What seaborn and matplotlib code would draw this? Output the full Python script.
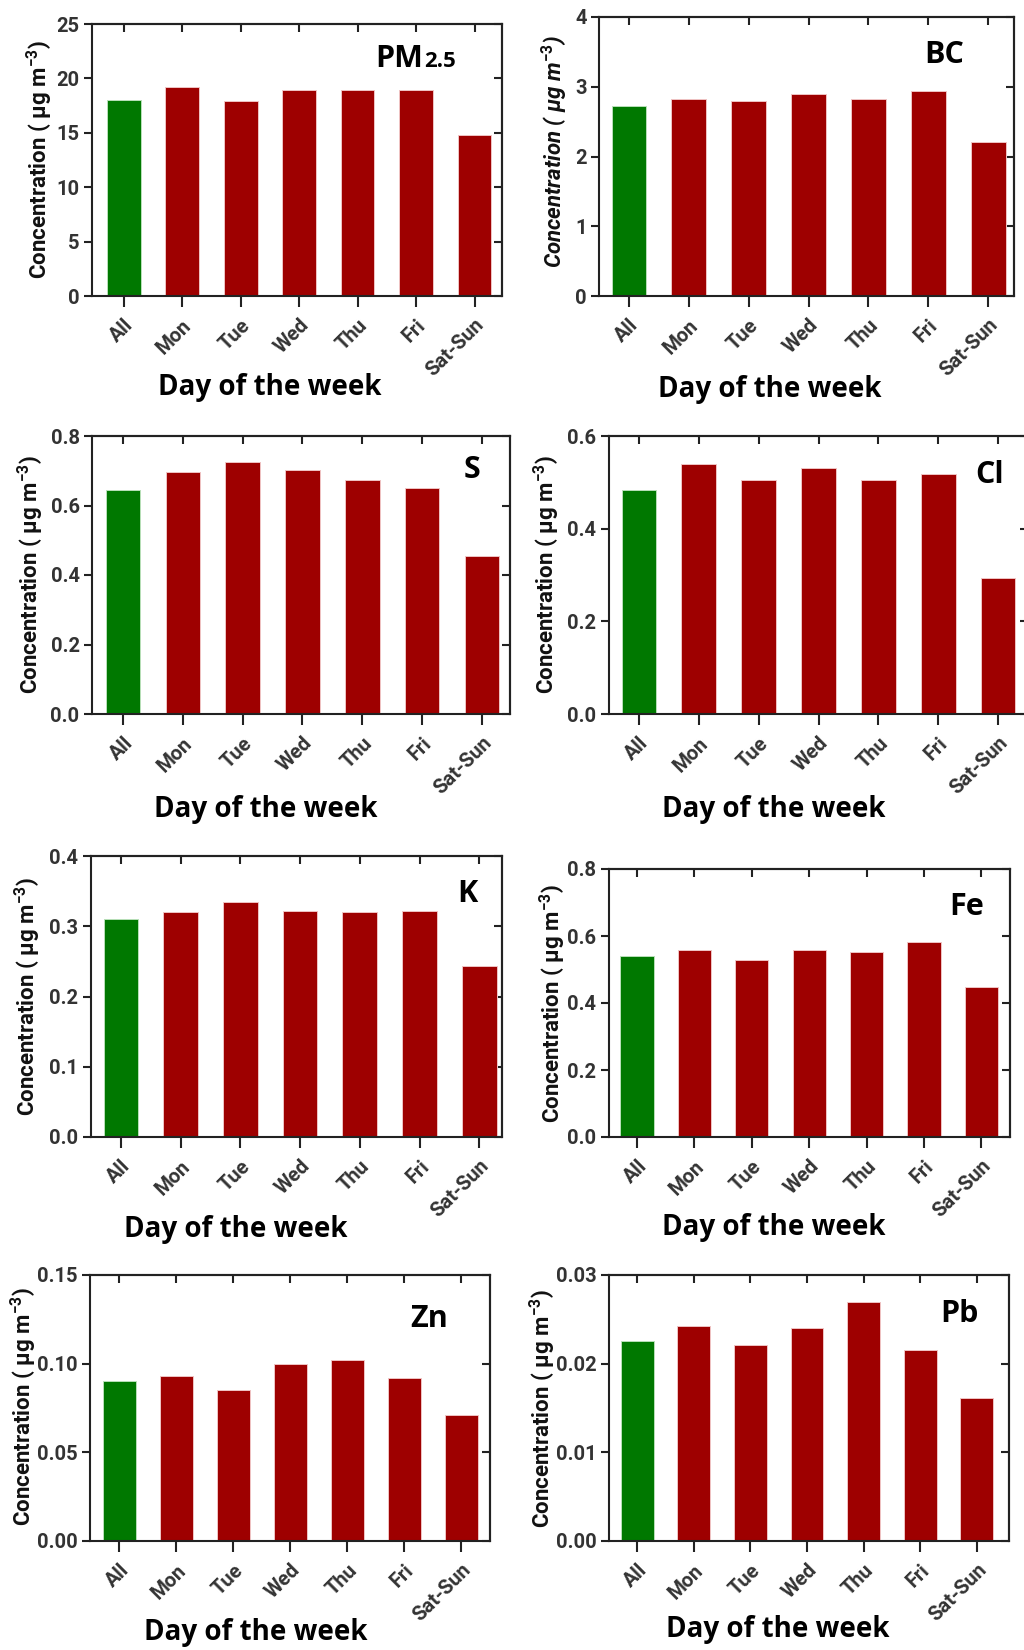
import matplotlib
matplotlib.use("Agg")
import matplotlib.pyplot as plt
import seaborn as sns
import pandas as pd

# ---------------- data ----------------
days = ["All", "Mon", "Tue", "Wed", "Thu", "Fri", "Sat-Sun"]

pm25 = [18.0, 19.2, 17.9, 18.9, 18.9, 18.9, 14.8]
bc = [2.73, 2.82, 2.79, 2.90, 2.82, 2.94, 2.21]
s_vals = [0.645, 0.697, 0.725, 0.702, 0.674, 0.651, 0.455]
cl_vals = [0.484, 0.540, 0.505, 0.531, 0.505, 0.519, 0.294]
k_vals = [0.311, 0.320, 0.334, 0.322, 0.320, 0.322, 0.243]
fe_vals = [0.539, 0.558, 0.528, 0.558, 0.551, 0.581, 0.449]
zn_vals = [0.090, 0.093, 0.085, 0.100, 0.102, 0.092, 0.071]
pb_vals = [0.0226, 0.0242, 0.0221, 0.0240, 0.0269, 0.0215, 0.0161]

pm_ticks = [0, 5, 10, 15, 20, 25]
pm_ticklabels = ["0", "5", "10", "15", "20", "25"]
bc_ticks = [0, 1, 2, 3, 4]
bc_ticklabels = ["0", "1", "2", "3", "4"]
s_ticks = [0.0, 0.2, 0.4, 0.6, 0.8]
s_ticklabels = ["0.0", "0.2", "0.4", "0.6", "0.8"]
cl_ticks = [0.0, 0.2, 0.4, 0.6]
cl_ticklabels = ["0.0", "0.2", "0.4", "0.6"]
k_ticks = [0.0, 0.1, 0.2, 0.3, 0.4]
k_ticklabels = ["0.0", "0.1", "0.2", "0.3", "0.4"]
fe_ticks = [0.0, 0.2, 0.4, 0.6, 0.8]
fe_ticklabels = ["0.0", "0.2", "0.4", "0.6", "0.8"]
zn_ticks = [0.00, 0.05, 0.10, 0.15]
zn_ticklabels = ["0.00", "0.05", "0.10", "0.15"]
pb_ticks = [0.00, 0.01, 0.02, 0.03]
pb_ticklabels = ["0.00", "0.01", "0.02", "0.03"]

xlabel_text = "Day of the week"
ylabel_text = "Concentration ( μg m$^{-3}$)"

# ---------------- style ----------------
sns.set_style("white")
BODY = ["Roboto", "DejaVu Sans"]
plt.rcParams["font.family"] = BODY
plt.rcParams["font.weight"] = "bold"
plt.rcParams["mathtext.fontset"] = "custom"
plt.rcParams["mathtext.rm"] = "Roboto:bold"
plt.rcParams["mathtext.it"] = "Roboto:bold:italic"
plt.rcParams["mathtext.bf"] = "Roboto:bold"
plt.rcParams["mathtext.default"] = "rm"

GREEN = "#007800"
RED = "#9e0000"
palette = [GREEN] + [RED] * 6
TICK_COLOR = "#333333"
LINE = "#222222"

W, H = 1024, 1650
fig = plt.figure(figsize=(W / 100, H / 100), dpi=100)

panels = [
    dict(vals=pm25, ticks=pm_ticks, tl=pm_ticklabels, box=(92, 24, 502, 296), xlim=(-0.54, 6.47),
         name="PM", sub="2.5", name_xy=(423, 67), ylab_xy=(40, 160), xlab_xy=(270, 395), italic=False),
    dict(vals=bc, ticks=bc_ticks, tl=bc_ticklabels, box=(599, 17, 1014, 296), xlim=(-0.5, 6.43),
         name="BC", sub=None, name_xy=(964, 63), ylab_xy=(555, 152), xlab_xy=(770, 397), italic=True),
    dict(vals=s_vals, ticks=s_ticks, tl=s_ticklabels, box=(92, 436, 510, 714), xlim=(-0.52, 6.47),
         name="S", sub=None, name_xy=(480, 478), ylab_xy=(31, 575), xlab_xy=(266, 817), italic=False),
    dict(vals=cl_vals, ticks=cl_ticks, tl=cl_ticklabels, box=(609, 436, 1028, 714), xlim=(-0.5, 6.5),
         name="Cl", sub=None, name_xy=(1004, 483), ylab_xy=(547, 575), xlab_xy=(774, 817), italic=False),
    dict(vals=k_vals, ticks=k_ticks, tl=k_ticklabels, box=(91, 856, 502, 1137), xlim=(-0.5, 6.38),
         name="K", sub=None, name_xy=(477, 902), ylab_xy=(28, 997), xlab_xy=(236, 1237), italic=False),
    dict(vals=fe_vals, ticks=fe_ticks, tl=fe_ticklabels, box=(609, 869, 1010, 1137), xlim=(-0.49, 6.5),
         name="Fe", sub=None, name_xy=(984, 915), ylab_xy=(553, 1004), xlab_xy=(774, 1235), italic=False),
    dict(vals=zn_vals, ticks=zn_ticks, tl=zn_ticklabels, box=(90, 1275, 490, 1541), xlim=(-0.51, 6.5),
         name="Zn", sub=None, name_xy=(448, 1327), ylab_xy=(24, 1407), xlab_xy=(256, 1640), italic=False),
    dict(vals=pb_vals, ticks=pb_ticks, tl=pb_ticklabels, box=(609, 1275, 1009, 1541), xlim=(-0.5, 6.57),
         name="Pb", sub=None, name_xy=(979, 1322), ylab_xy=(543, 1409), xlab_xy=(778, 1637), italic=False),
]


def fx(x):
    return x / W


def fy(y):
    return 1 - y / H


for p in panels:
    l, t, r, b = p["box"]
    ax = fig.add_axes([fx(l), fy(b), (r - l) / W, (b - t) / H])
    df = pd.DataFrame({"day": days, "value": p["vals"]})
    sns.barplot(data=df, x="day", y="value", hue="day", palette=palette, legend=False,
                width=0.58, saturation=1, linewidth=0.7, ax=ax)
    for patch, col in zip(ax.patches, palette):
        patch.set_edgecolor("#b8e0b8" if col == GREEN else "#f0c4c4")
    ax.set_xlim(*p["xlim"])
    ax.set_ylim(p["ticks"][0], p["ticks"][-1])
    ax.set_yticks(p["ticks"])
    ax.set_yticklabels(p["tl"], fontweight="bold", family=BODY)
    ax.set_xticks(range(len(days)))
    ax.set_xticklabels(days, rotation=45, ha="right", va="top", rotation_mode="anchor",
                       fontweight="bold", family=BODY)
    for sp in ax.spines.values():
        sp.set_visible(True)
        sp.set_linewidth(1.5)
        sp.set_color(LINE)
    ax.tick_params(axis="both", which="major", direction="out", length=6, width=1.5,
                   color=LINE, labelsize=14.5, labelcolor=TICK_COLOR, pad=3,
                   bottom=True, left=True, top=False, right=False)
    ax.tick_params(axis="x", length=8, pad=6)
    # inward ticks on top and right
    secx = ax.secondary_xaxis("top")
    secx.set_xticks(range(len(days)))
    secx.tick_params(direction="in", length=6, width=1.5, color=LINE, labeltop=False, top=True)
    secx.spines["top"].set_linewidth(1.5)
    secx.spines["top"].set_color(LINE)
    secy = ax.secondary_yaxis("right")
    secy.set_yticks(p["ticks"])
    secy.tick_params(direction="in", length=6, width=1.5, color=LINE, labelright=False, right=True)
    secy.spines["right"].set_linewidth(1.5)
    secy.spines["right"].set_color(LINE)

    # axis labels
    ax.set_xlabel(xlabel_text, fontsize=20, fontweight="bold", family=["Open Sans", "DejaVu Sans"],
                  color="black")
    ax.xaxis.set_label_coords(fx(p["xlab_xy"][0]), fy(p["xlab_xy"][1]), transform=fig.transFigure)
    ax.xaxis.label.set_va("baseline")
    ax.xaxis.label.set_ha("center")
    ax.set_ylabel(ylabel_text, fontsize=16, fontweight="bold", family=BODY,
                  fontstyle="italic" if p["italic"] else "normal", color="#111111")
    ax.yaxis.set_label_coords(fx(p["ylab_xy"][0]), fy(p["ylab_xy"][1]), transform=fig.transFigure)
    ax.yaxis.label.set_va("center")
    ax.yaxis.label.set_ha("center")

    # panel name
    nx, ny = p["name_xy"]
    fig.text(fx(nx), fy(ny), p["name"], ha="right", va="baseline", fontsize=22,
             fontweight="bold", family=["Open Sans", "DejaVu Sans"], color="black")
    if p["sub"]:
        fig.text(fx(nx + 1), fy(ny), p["sub"], ha="left", va="baseline", fontsize=16,
                 fontweight="bold", family=["Open Sans", "DejaVu Sans"], color="black")

fig.savefig("out.png", dpi=100, facecolor="white")
